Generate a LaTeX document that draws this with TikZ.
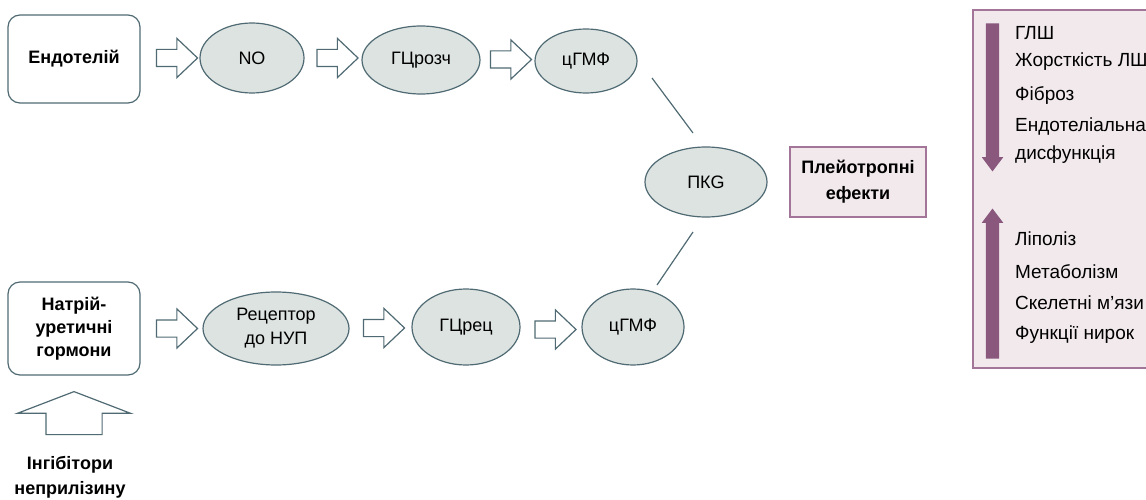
\documentclass[tikz,border=0pt]{standalone}
\usepackage{fontspec}
\setmainfont{Liberation Sans}
\usetikzlibrary{shapes.geometric, shapes.arrows}
\definecolor{slate}{RGB}{80,106,115}
\definecolor{molfill}{RGB}{220,227,225}
\definecolor{plum}{RGB}{137,88,124}
\definecolor{plumline}{RGB}{163,117,152}
\definecolor{panelfill}{RGB}{242,233,237}
\tikzset{
  source/.style = {draw = slate, line width = 1.2pt, rounded corners = 12pt,
    font = \bfseries\fontsize{18}{23}\selectfont, align = center,
    minimum width = 132pt, inner sep = 0},
  molecule/.style = {ellipse, draw = slate, fill = molfill, line width = 1.2pt,
    font = \fontsize{18}{24}\selectfont, align = center, inner sep = 0},
  hollow/.style = {single arrow, draw = slate, fill = white, line width = 1.2pt,
    minimum height = 41pt, inner xsep = 0, inner ysep = 8pt,
    single arrow head extend = 11pt, single arrow tip angle = 87},
  link/.style = {draw = slate, line width = 1.2pt},
  effect/.style = {font = \fontsize{19}{24}\selectfont, anchor = west, inner sep = 0},
  trend/.style = {single arrow, fill = plum, inner ysep = 0, inner xsep = 6.5pt,
    single arrow head extend = 4pt, single arrow tip angle = 74}
}
\begin{document}
\begin{tikzpicture}[x = 1pt, y = -1pt]
  \useasboundingbox (0, 0) rectangle (1146, 500);
  % upper pathway
  \node[source, minimum height = 88pt] (endo) at (74, 59) {Ендотелій};
  \node[hollow] (a1) at (172.5, 58) {};
  \node[molecule, minimum width = 104pt, minimum height = 70pt] (no) at (252, 58) {NO};
  \node[hollow] (a2) at (333, 58) {};
  \node[molecule, minimum width = 118pt, minimum height = 68pt] (gcs) at (421, 60) {ГЦрозч};
  \node[hollow] (a3) at (506.5, 59.5) {};
  \node[molecule, minimum width = 102pt, minimum height = 64pt] (cgmpa) at (586, 61) {цГМФ};
  % lower pathway
  \node[source, minimum height = 93pt] (nup) at (74, 328.5)
  {Натрій-\\уретичні\\гормони};
  \node[hollow] (b1) at (172.5, 328.5) {};
  \node[molecule, minimum width = 146pt, minimum height = 73pt] (rec) at (276, 328.5)
  {Рецептор\\до НУП};
  \node[hollow] (b2) at (379.5, 328) {};
  \node[molecule, minimum width = 108pt, minimum height = 76pt] (gcr) at (466, 327) {ГЦрец};
  \node[hollow] (b3) at (551, 329.5) {};
  \node[molecule, minimum width = 102pt, minimum height = 76pt] (cgmpb) at (633, 327) {цГМФ};
  \node[hollow, shape border rotate = 90, minimum height = 43pt, inner ysep = 0,
  inner xsep = 27.5pt, single arrow head extend = 28.5pt,
  single arrow tip angle = 138] (up) at (74, 418.5) {};
  \node[font = \bfseries\fontsize{18}{25}\selectfont, align = center] (inhib) at (70, 477)
  {Інгібітори\\неприлізину};
  % kinase and effects
  \node[molecule, minimum width = 122pt, minimum height = 70pt] (pkg) at (706, 182) {ПКG};
  \coordinate (ta) at (652, 78);
  \coordinate (tb) at (693, 133);
  \draw[link] (ta) -- (tb);
  \coordinate (ba) at (657, 285);
  \draw[link] (ba) -- (693, 232);
  \node[draw = plumline, fill = panelfill, line width = 1.2pt, minimum width = 136pt,
  minimum height = 70pt, align = center, font = \bfseries\fontsize{18}{26}\selectfont]
  (pleio) at (858, 182) {Плейотропні\\ефекти};
  % panel
  \draw[draw = plumline, fill = panelfill, line width = 1.2pt] (973, 10) rectangle (1170, 368);
  \node[trend, shape border rotate = 270, minimum height = 148pt] (down) at (992.5, 93) {};
  \node[trend, shape border rotate = 90, minimum height = 150pt] (rise) at (992.5, 288) {};
  \node[effect] (e1) at (1015, 33) {ГЛШ};
  \node[effect] (e2) at (1015, 62) {Жорсткість ЛШ};
  \node[effect] (e3) at (1015, 96) {Фіброз};
  \node[effect] (e4) at (1015, 127) {Ендотеліальна};
  \node[effect] (e5) at (1015, 155) {дисфункція};
  \node[effect] (e6) at (1015, 239) {Ліполіз};
  \node[effect] (e7) at (1015, 272) {Метаболізм};
  \node[effect] (e8) at (1015, 303) {Скелетні м’язи};
  \node[effect] (e9) at (1015, 335) {Функції нирок};
\end{tikzpicture}
\end{document}
